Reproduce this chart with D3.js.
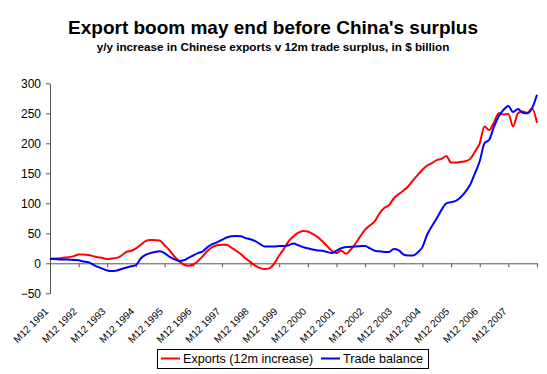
<!DOCTYPE html>
<html>
<head>
<meta charset="utf-8">
<script src="https://cdn.jsdelivr.net/npm/d3@7"></script>
<style>
  body { margin: 0; background: #fff; }
  text { font-family: Arial, "Liberation Sans", sans-serif; }
</style>
</head>
<body>
<div id="main"></div>
<script>
// month offsets from Dec 1991, every 2 months
var months = d3.range(0, 205, 2);

var yearLabels = ["M12 1991", "M12 1992", "M12 1993", "M12 1994", "M12 1995", "M12 1996",
  "M12 1997", "M12 1998", "M12 1999", "M12 2000", "M12 2001", "M12 2002",
  "M12 2003", "M12 2004", "M12 2005", "M12 2006", "M12 2007"];

var exportsInc = [
  8, 8, 8.5, 9.5, 10, 12, 14.5, 14.5, 14, 12,
  10, 9, 7, 8, 9, 13, 19, 21, 25, 31,
  37, 39, 38.5, 38, 30, 22, 12, 4, -2, -4,
  -2, 4, 12, 21, 27, 30, 31, 31, 26, 21,
  15, 8, 2, -4, -8, -9.5, -8, 0, 13, 24,
  37, 45, 51, 54, 53, 49, 44, 37, 29, 21,
  17, 21, 16, 23, 33, 45, 56, 63, 70, 83,
  92, 97, 108, 115, 121, 128, 138, 147, 156, 163,
  167, 172, 174, 179, 168, 168, 169, 170, 174, 186,
  200, 228, 222, 235, 250, 248, 249, 228, 250, 253,
  251, 258, 234];

var tradeBalance = [
  7, 7, 6.5, 6.5, 6, 5.5, 5, 3, 2, -2,
  -6, -9, -12, -13, -12, -9.5, -7, -5, -3, 8,
  14, 17, 19, 20, 17, 11, 7, 4, 5, 9,
  13, 17, 20, 27, 32, 35, 39, 43, 45, 45.5,
  45, 42, 40, 37, 32, 28, 28, 28, 29, 29,
  30, 33, 30, 27, 25, 23, 21.5, 21, 19, 17,
  21, 25, 27, 27.5, 28, 28.5, 29, 25, 21, 20,
  19, 19, 24, 22, 15, 13, 13, 18, 27, 48,
  62, 75, 89, 100, 102, 104, 110, 119, 131, 150,
  170, 200, 206, 228, 245, 256, 262, 252, 257, 251,
  250, 259, 281];

var yTicks = [-50, 0, 50, 100, 150, 200, 250, 300];

var width = 547, height = 374;

var svg = d3.select('#main')
  .append("svg")
  .attr('width', width)
  .attr('height', height);

var xScale = d3.scaleLinear().domain([0, 204]).range([50, 537]);
var yScale = d3.scaleLinear().domain([-50, 300]).range([293.3, 83.3]);

var axisColor = '#555';

// title
svg.append("text")
  .attr("x", 273).attr("y", 34)
  .style("text-anchor", "middle")
  .style("font-weight", "bold")
  .style("font-size", "19px")
  .text("Export boom may end before China's surplus");

svg.append("text")
  .attr("x", 273).attr("y", 50.5)
  .style("text-anchor", "middle")
  .style("font-weight", "bold")
  .style("font-size", "11.7px")
  .text("y/y increase in Chinese exports v 12m trade surplus, in $ billion");

// y axis
var yAxis = svg.append("g")
  .attr("transform", "translate(50,0)")
  .call(d3.axisLeft(yScale).tickValues(yTicks).tickSize(4).tickSizeOuter(0).tickPadding(5));
yAxis.selectAll("line, path").attr("stroke", axisColor);
yAxis.selectAll("text").style("font-size", "12px").attr("fill", "#000")
  .attr("font-family", null);

// x axis at zero
var xAxis = svg.append("g")
  .attr("transform", "translate(0," + yScale(0) + ")")
  .call(d3.axisBottom(xScale).tickValues(d3.range(0, 205, 12)).tickSize(4).tickSizeOuter(0).tickFormat(""));
xAxis.selectAll("line, path").attr("stroke", axisColor);

// category labels, rotated
svg.append("g").selectAll("text")
  .data(yearLabels)
  .enter()
  .append("text")
  .attr("transform", (d, i) => "translate(" + (xScale(i * 12) - 1) + ",312)rotate(-45)")
  .style("text-anchor", "end")
  .style("font-size", "10px")
  .text(d => d);

var line = d3.line()
  .x((d, i) => xScale(months[i]))
  .y(d => yScale(d))
  .curve(d3.curveMonotoneX);

svg.append("path")
  .datum(exportsInc)
  .attr("fill", "none")
  .attr("stroke", "#ff0000")
  .attr("stroke-width", 2)
  .attr("d", line);

svg.append("path")
  .datum(tradeBalance)
  .attr("fill", "none")
  .attr("stroke", "#0000ff")
  .attr("stroke-width", 2)
  .attr("d", line);

// legend
var legend = svg.append("g");
legend.append("rect")
  .attr("x", 157.5).attr("y", 349.5)
  .attr("width", 271).attr("height", 19)
  .attr("fill", "#fff").attr("stroke", "#000");

var legendItems = [
  { name: "Exports (12m increase)", color: "#ff0000", x: 161 },
  { name: "Trade balance", color: "#0000ff", x: 321 }
];

legendItems.forEach(function (d) {
  legend.append("line")
    .attr("x1", d.x).attr("x2", d.x + 19)
    .attr("y1", 358.5).attr("y2", 358.5)
    .attr("stroke", d.color).attr("stroke-width", 2);
  legend.append("text")
    .attr("x", d.x + 22).attr("y", 363)
    .style("font-size", "12.6px")
    .text(d.name);
});
</script>
</body>
</html>
